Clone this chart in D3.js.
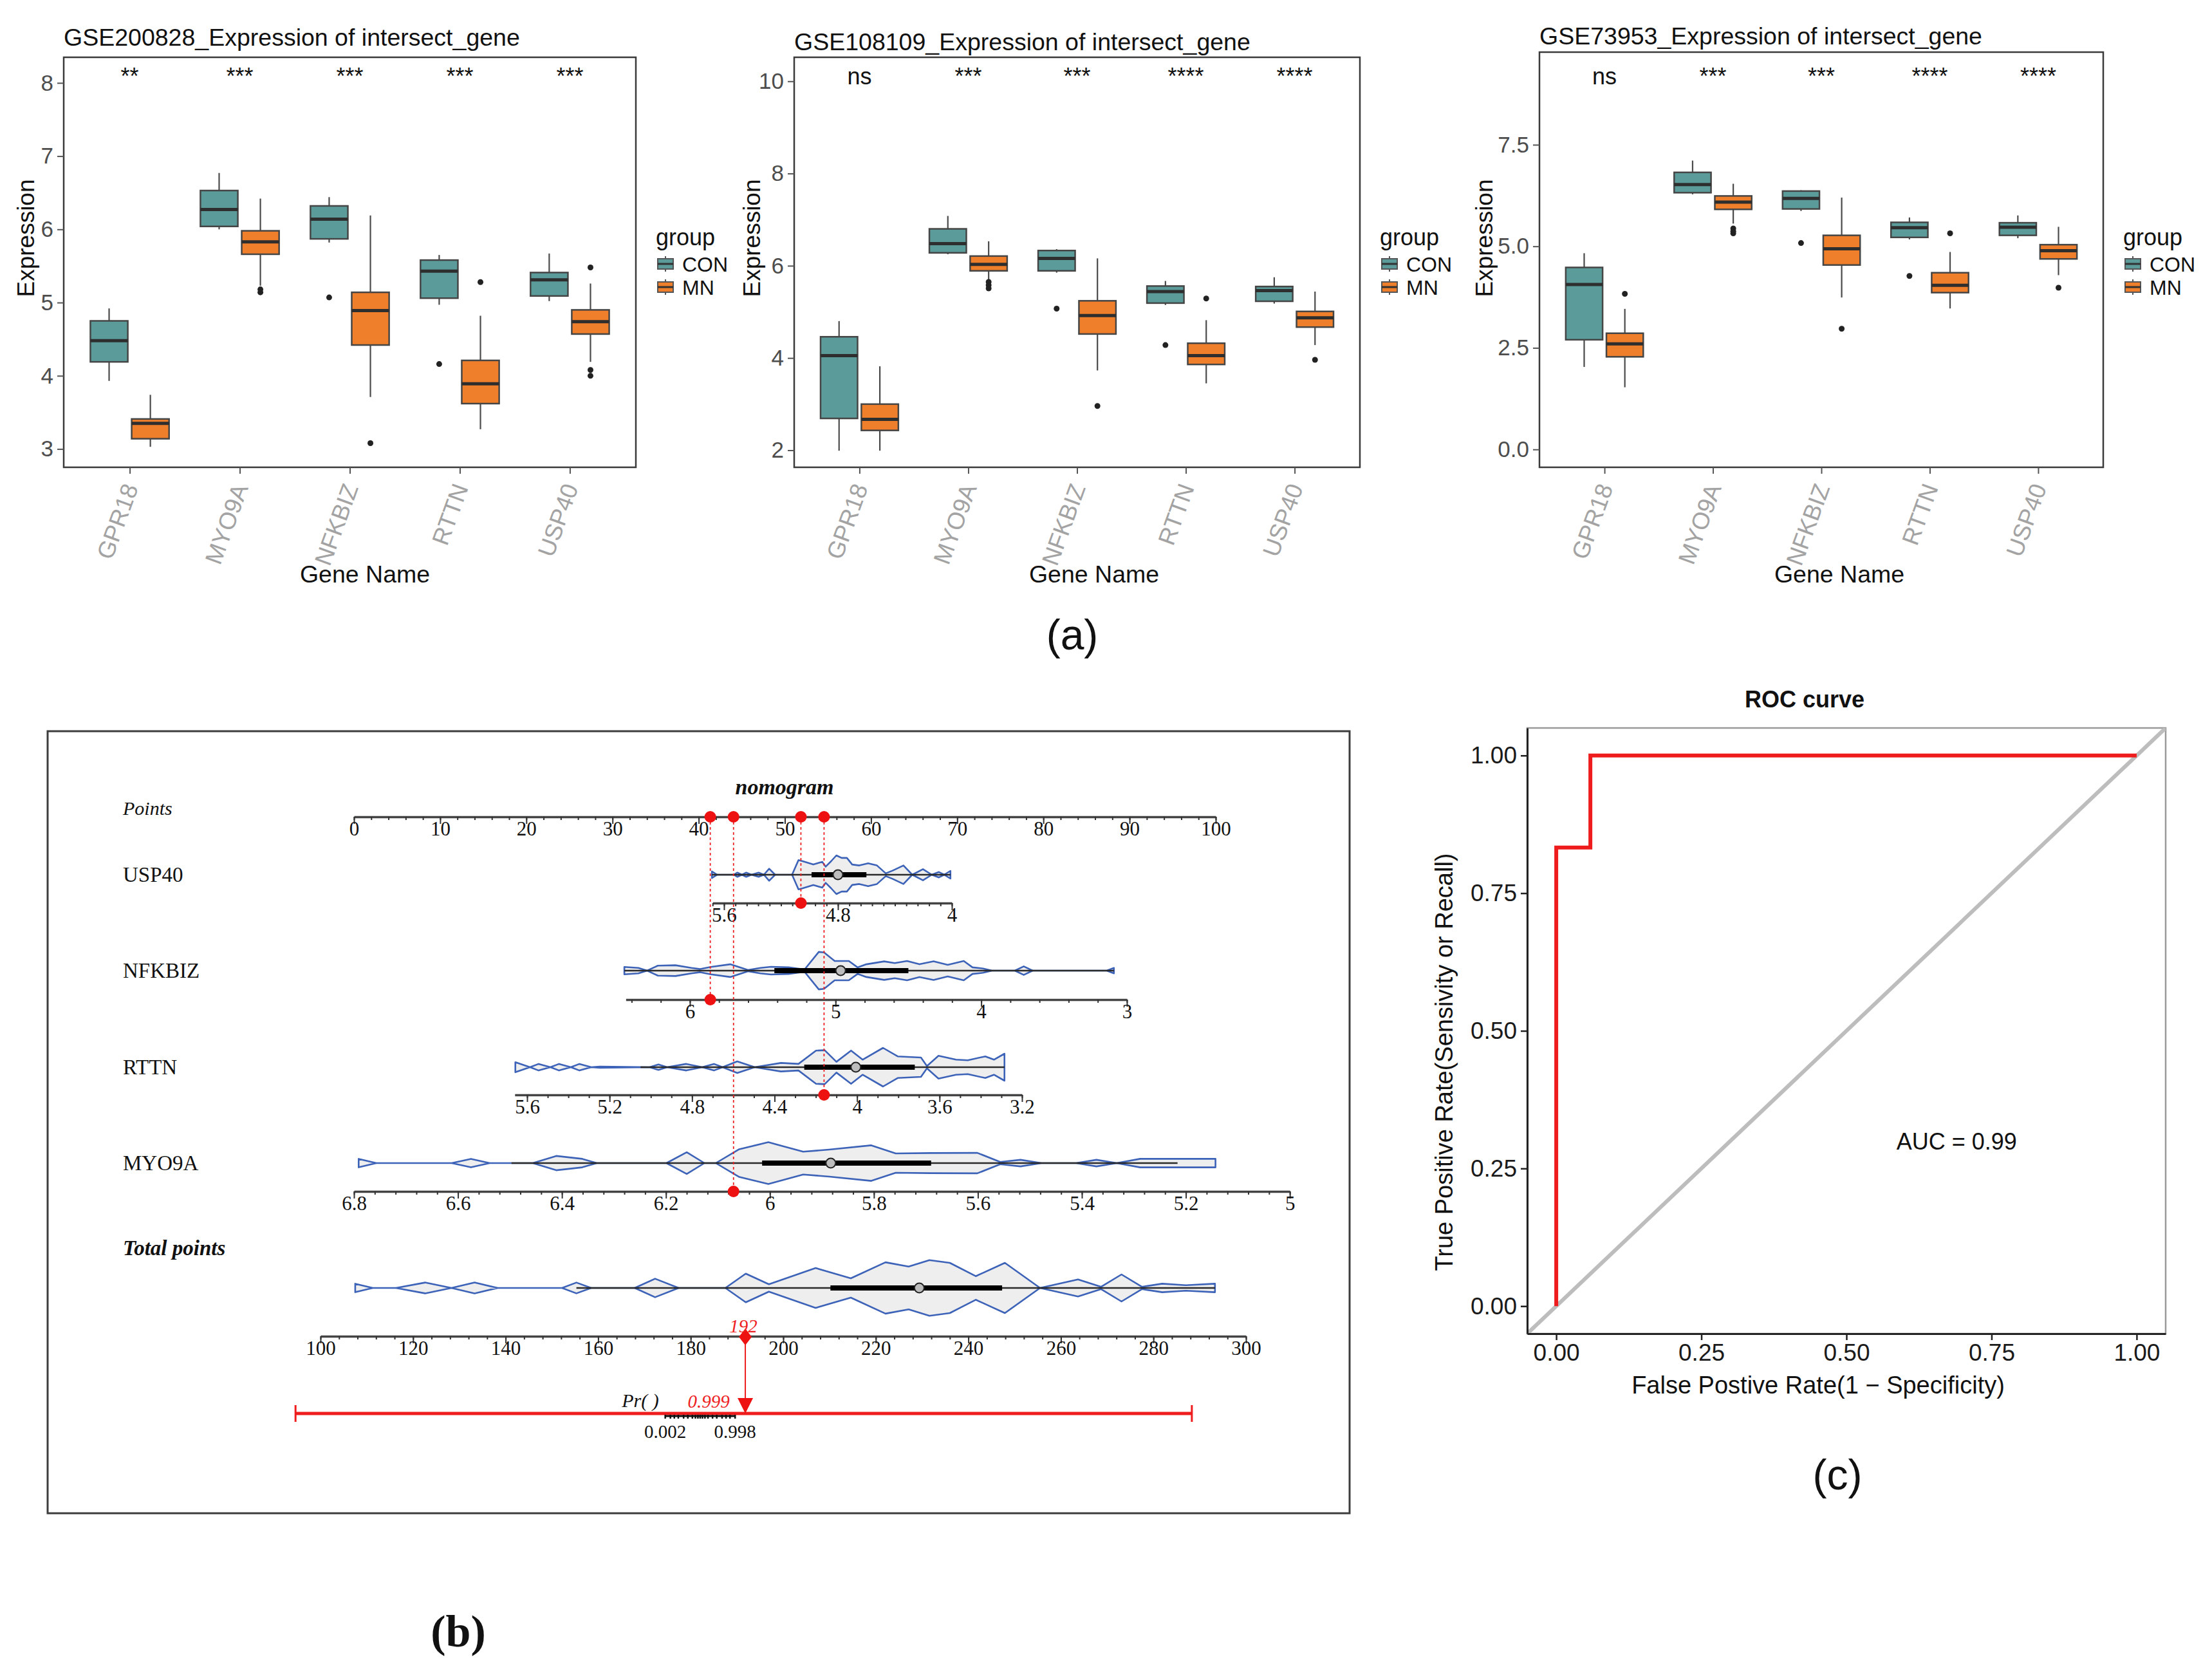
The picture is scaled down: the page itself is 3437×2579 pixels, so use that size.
<!DOCTYPE html>
<html><head><meta charset="utf-8">
<script src="https://cdn.jsdelivr.net/npm/d3@7/dist/d3.min.js"></script>
<style>html,body{margin:0;padding:0;background:#fff;}svg{display:block;}</style>
</head><body>
<svg id="fig" width="3437" height="2579" xmlns="http://www.w3.org/2000/svg"></svg>
<script>
// ================= DATA =================
const genes = ["GPR18","MYO9A","NFKBIZ","RTTN","USP40"];
const groups = ["CON","MN"];
// box stats per gene: [lower whisker, Q1, median, Q3, upper whisker]
const gse200828_CON = [[3.93,4.19,4.48,4.75,4.92],[6.00,6.04,6.27,6.53,6.77],[5.82,5.87,6.14,6.32,6.44],[4.97,5.06,5.43,5.58,5.65],[5.02,5.09,5.31,5.41,5.67]];
const gse200828_MN  = [[3.03,3.14,3.35,3.41,3.74],[5.23,5.66,5.83,5.98,6.42],[3.71,4.42,4.89,5.14,6.19],[3.27,3.62,3.89,4.21,4.82],[4.19,4.57,4.74,4.90,5.26]];
const gse200828_CON_out = [[],[],[5.07],[4.16],[]];
const gse200828_MN_out  = [[],[5.18,5.14],[3.08],[5.28],[5.48,4.08,4.00]];
const gse200828_sig = ["**","***","***","***","***"];
const gse200828_ticks = [3,4,5,6,7,8];

const gse108109_CON = [[1.99,2.69,4.05,4.46,4.80],[6.25,6.28,6.48,6.80,7.08],[5.85,5.89,6.16,6.33,6.36],[5.15,5.19,5.44,5.56,5.67],[5.18,5.23,5.46,5.55,5.75]];
const gse108109_MN  = [[1.99,2.43,2.67,3.00,3.82],[5.70,5.89,6.03,6.21,6.53],[3.73,4.52,4.92,5.24,6.16],[3.45,3.86,4.05,4.32,4.82],[4.28,4.67,4.87,5.01,5.44]];
const gse108109_CON_out = [[],[],[5.07],[4.28],[]];
const gse108109_MN_out  = [[],[5.65,5.58,5.51],[2.96],[5.29],[3.96]];
const gse108109_sig = ["ns","***","***","****","****"];
const gse108109_ticks = [2,4,6,8,10];

const gse73953_CON = [[2.03,2.70,4.06,4.48,4.83],[6.28,6.32,6.52,6.82,7.11],[5.87,5.92,6.18,6.36,6.38],[5.17,5.22,5.46,5.59,5.71],[5.20,5.27,5.47,5.58,5.76]];
const gse73953_MN  = [[1.53,2.28,2.60,2.86,3.46],[5.56,5.91,6.09,6.24,6.54],[3.74,4.54,4.94,5.27,6.20],[3.47,3.86,4.04,4.35,4.86],[4.29,4.69,4.89,5.04,5.48]];
const gse73953_CON_out = [[],[],[5.08],[4.27],[]];
const gse73953_MN_out  = [[3.83],[5.44,5.37,5.32],[2.97],[5.32],[3.98]];
const gse73953_sig = ["ns","***","***","****","****"];
const gse73953_ticks = [0,2.5,5,7.5];

// ---- nomogram ----
const pointsTicks = [0,10,20,30,40,50,60,70,80,90,100];
const totalTicks = [100,120,140,160,180,200,220,240,260,280,300];
// value -> points anchors
const usp40Anchor  = {values:[5.6,4.0], points:[42.94,69.38]};
const nfkbizAnchor = {values:[6.0,3.0], points:[38.98,89.69]};
const rttnAnchor   = {values:[5.6,3.2], points:[20.09,77.52]};
const myo9aAnchor  = {values:[6.8,5.0], points:[0.0,108.6]};
const usp40AxisRange=[5.68,4.0],  usp40Labels=[5.6,4.8,4.0],  usp40Minor=0.08;
const nfkbizAxisRange=[6.44,3.0], nfkbizLabels=[6,5,4,3],     nfkbizMinor=0.2;
const rttnAxisRange=[5.66,3.2],   rttnLabels=[5.6,5.2,4.8,4.4,4.0,3.6,3.2], rttnMinor=0.1;
const myo9aAxisRange=[6.8,5.0],   myo9aLabels=[6.8,6.6,6.4,6.2,6.0,5.8,5.6,5.4,5.2,5.0], myo9aMinor=0.04;
// violin profiles: [value, relative density]
const usp40Violin=[[5.685,0.17],[5.648,0],[5.531,0],[5.506,0.11],[5.474,0],[5.444,0.11],[5.407,0],[5.357,0.11],[5.320,0],[5.283,0.31],[5.241,0],[5.122,0],[5.077,0.76],[5.047,0.70],[4.973,0.53],[4.910,0.67],[4.886,0.42],[4.848,0.70],[4.811,1.00],[4.774,0.87],[4.737,0.87],[4.700,0.53],[4.650,0.48],[4.588,0.59],[4.526,0.48],[4.464,0.07],[4.414,0.22],[4.340,0.48],[4.278,0],[4.203,0.29],[4.141,0],[4.091,0.14],[4.054,0],[4.010,0.20]];
const nfkbizViolin=[[6.45,0.19],[6.354,0.14],[6.293,0],[6.22,0.26],[6.099,0.28],[5.989,0.14],[5.929,0.08],[5.856,0.19],[5.723,0.33],[5.601,0.03],[5.516,0.14],[5.443,0.2],[5.322,0.17],[5.213,0.06],[5.115,0.97],[5.079,0.94],[5.006,0.5],[4.909,0.5],[4.849,0.17],[4.788,0.33],[4.666,0.48],[4.594,0.39],[4.509,0.5],[4.424,0.33],[4.327,0.48],[4.230,0.3],[4.120,0.5],[4.060,0.17],[3.987,0.11],[3.926,0],[3.769,0],[3.708,0.22],[3.647,0],[3.138,0],[3.089,0.14]];
const rttnViolin=[[5.657,0.26],[5.586,0],[5.544,0.17],[5.487,0],[5.445,0.17],[5.388,0],[5.346,0.17],[5.289,0],[5.247,0.03],[5.006,0],[4.963,0.14],[4.921,0],[4.828,0.17],[4.751,0],[4.694,0.17],[4.652,0],[4.581,0.3],[4.496,0],[4.369,0.22],[4.284,0.17],[4.199,0.86],[4.157,0.88],[4.10,0.28],[4.029,0.86],[3.973,0.39],[3.874,1.0],[3.803,0.56],[3.69,0.5],[3.661,0.06],[3.605,0.59],[3.520,0.39],[3.463,0.36],[3.378,0.56],[3.336,0.39],[3.285,0.7]];
const myo9aViolin=[[6.791,0.22],[6.757,0],[6.612,0],[6.575,0.22],[6.539,0],[6.456,0],[6.411,0.37],[6.361,0.22],[6.333,0],[6.199,0],[6.160,0.56],[6.126,0],[6.104,0],[6.059,0.72],[6.003,1.08],[5.936,0.59],[5.886,0.7],[5.805,0.92],[5.758,0.5],[5.691,0.52],[5.601,0.53],[5.557,0.06],[5.518,0.17],[5.478,0],[5.411,0],[5.372,0.17],[5.333,0],[5.288,0.22],[5.233,0.22],[5.143,0.22]];
const totalViolin=[[107.5,0.22],[111.3,0],[116.3,0],[122.6,0.28],[128.3,0],[133.3,0.28],[138.3,0],[152.2,0],[155.3,0.28],[158.5,0],[167.9,0],[172.3,0.48],[177.4,0],[187.5,0],[191.9,0.74],[196.9,0.19],[207.0,1.03],[214.6,0.5],[222.1,1.33],[227.1,1.11],[231.6,1.44],[236.0,1.3],[241.6,0.61],[247.9,1.3],[255.5,0],[263.7,0.44],[268.7,0.06],[273.1,0.7],[277.5,0.06],[281.9,0.22],[287.0,0.14],[293.3,0.22]];
// inner box: [whisker start, Q1, median, Q3, whisker end]
const usp40Box=[5.685,4.985,4.80,4.60,4.01];
const nfkbizBox=[6.45,5.42,4.965,4.50,3.089];
const rttnBox=[5.05,4.256,4.006,3.72,3.285];
const myo9aBox=[6.497,6.015,5.883,5.69,5.216];
const totalBox=[155.3,210.2,229.4,247.3,293.3];
// observation (red)
const usp40Obs=5.06, nfkbizObs=5.86, rttnObs=4.16, myo9aObs=6.07;
// probability axis
const prModel={center:182.05, slope:0.8225};
const prLineRange=[94.6,288.3];
const prMinorTicks=[0.002,0.005,0.01,0.02,0.05,0.1,0.2,0.3,0.4,0.5,0.6,0.7,0.8,0.9,0.95,0.98,0.99,0.995,0.998];
const prLabels=[0.002,0.998];
const prObsLabel="0.999";

// ---- ROC ----
const rocFPR=[0,0,0.0588,0.0588,1];
const rocTPR=[0,0.833,0.833,1,1];
const rocTicks=[0,0.25,0.5,0.75,1];
const rocAUC=0.99;

// ================= DRAW =================
const svg=d3.select("#fig");
const SANS="'Liberation Sans', Arial, Helvetica, sans-serif";
const SERIF="'Liberation Serif', 'Times New Roman', Times, serif";
const groupColors=["#5b9b9a","#f07f2b"];
svg.append("rect").attr("width",3437).attr("height",2579).attr("fill","#fff");

function boxPanel(p){
  const g=svg.append("g").attr("font-family",SANS);
  const x=d3.scalePoint().domain(genes).range([p.x0,p.x1]).padding(0.6);
  const y=d3.scaleLinear().domain(p.domain).range([p.y1,p.y0]);
  const step=x.step();
  g.append("rect").attr("x",p.x0).attr("y",p.y0).attr("width",p.x1-p.x0).attr("height",p.y1-p.y0)
    .attr("fill","#fff").attr("stroke","#3a3a3a").attr("stroke-width",2.5);
  const ya=g.append("g").attr("transform",`translate(${p.x0},0)`)
    .call(d3.axisLeft(y).tickValues(p.ticks).tickFormat(p.fmt).tickSize(10).tickPadding(6));
  ya.select(".domain").remove();
  ya.selectAll(".tick line").attr("stroke","#555").attr("stroke-width",2);
  ya.selectAll(".tick text").attr("font-size",35).attr("fill","#4d4d4d").attr("font-family",SANS);
  const xa=g.append("g").attr("transform",`translate(0,${p.y1})`).call(d3.axisBottom(x).tickSize(10));
  xa.select(".domain").remove();
  xa.selectAll(".tick line").attr("stroke","#555").attr("stroke-width",2);
  xa.selectAll(".tick text").attr("y",null).attr("dy","0.35em").attr("text-anchor","end")
    .attr("transform","translate(1,27) rotate(-70)").attr("font-size",37).attr("fill","#a3a3a3").attr("font-family",SANS);
  const sets=[p.con,p.mn], outs=[p.conOut,p.mnOut];
  sets.forEach((data,j)=>{
    const off=(j===0?-1:1)*0.1875*step, bw=0.34*step;
    data.forEach((s,i)=>{
      const cx=x(genes[i])+off;
      g.append("line").attr("x1",cx).attr("x2",cx).attr("y1",y(s[0])).attr("y2",y(s[4])).attr("stroke","#4a4a4a").attr("stroke-width",2.2);
      g.append("rect").attr("x",cx-bw/2).attr("y",y(s[3])).attr("width",bw).attr("height",y(s[1])-y(s[3]))
        .attr("fill",groupColors[j]).attr("stroke","#454545").attr("stroke-width",2.5);
      g.append("line").attr("x1",cx-bw/2).attr("x2",cx+bw/2).attr("y1",y(s[2])).attr("y2",y(s[2])).attr("stroke","#2e2e2e").attr("stroke-width",5);
      outs[j][i].forEach(v=>g.append("circle").attr("cx",cx).attr("cy",y(v)).attr("r",4.5).attr("fill","#222"));
    });
  });
  p.sig.forEach((s,i)=>g.append("text").attr("x",x(genes[i])).attr("y",y(p.sigY)).attr("text-anchor","middle")
    .attr("font-size",36).attr("fill","#111").text(s));
  g.append("text").attr("x",p.x0).attr("y",p.titleY).attr("font-size",37.5).attr("fill","#111").text(p.title);
  g.append("text").attr("transform",`translate(${p.ylabX},370) rotate(-90)`).attr("dy","0.35em").attr("text-anchor","middle")
    .attr("font-size",37).attr("fill","#111").text("Expression");
  g.append("text").attr("x",p.xlabX).attr("y",905).attr("text-anchor","middle").attr("font-size",37.5).attr("fill","#111").text("Gene Name");
  // legend
  g.append("text").attr("x",p.legX).attr("y",381).attr("font-size",36).attr("fill","#111").text("group");
  groups.forEach((gr,j)=>{
    const cy=410+36*j, kx=p.legX+3;
    g.append("line").attr("x1",kx+12).attr("x2",kx+12).attr("y1",cy-12).attr("y2",cy+12).attr("stroke","#555").attr("stroke-width",2);
    g.append("rect").attr("x",kx).attr("y",cy-8).attr("width",24).attr("height",16).attr("fill",groupColors[j]).attr("stroke","#555").attr("stroke-width",2);
    g.append("line").attr("x1",kx).attr("x2",kx+24).attr("y1",cy).attr("y2",cy).attr("stroke","#333").attr("stroke-width",3);
    g.append("text").attr("x",p.legX+41).attr("y",cy+11.5).attr("font-size",32).attr("fill","#111").text(gr);
  });
}

boxPanel({x0:99,x1:988,y0:89,y1:726,domain:[2.75,8.35],ticks:gse200828_ticks,fmt:d3.format("d"),
  con:gse200828_CON,mn:gse200828_MN,conOut:gse200828_CON_out,mnOut:gse200828_MN_out,sig:gse200828_sig,sigY:7.98,
  title:"GSE200828_Expression of intersect_gene",titleY:71,ylabX:40,xlabX:567,legX:1019});
boxPanel({x0:1234,x1:2113,y0:89,y1:726,domain:[1.63,10.52],ticks:gse108109_ticks,fmt:d3.format("d"),
  con:gse108109_CON,mn:gse108109_MN,conOut:gse108109_CON_out,mnOut:gse108109_MN_out,sig:gse108109_sig,sigY:9.93,
  title:"GSE108109_Expression of intersect_gene",titleY:78,ylabX:1168,xlabX:1700,legX:2144});
boxPanel({x0:2392,x1:3268,y0:81,y1:726,domain:[-0.44,9.78],ticks:gse73953_ticks,fmt:d3.format(".1f"),
  con:gse73953_CON,mn:gse73953_MN,conOut:gse73953_CON_out,mnOut:gse73953_MN_out,sig:gse73953_sig,sigY:8.99,
  title:"GSE73953_Expression of intersect_gene",titleY:69,ylabX:2306,xlabX:2858,legX:3299});

svg.append("text").attr("x",1666).attr("y",1009).attr("text-anchor","middle").attr("font-family",SANS).attr("font-size",66).attr("fill","#111").text("(a)");

// ---------- Nomogram ----------
const nb=svg.append("g").attr("font-family",SERIF);
nb.append("rect").attr("x",74).attr("y",1136).attr("width",2023).attr("height",1215).attr("fill","#fff").attr("stroke","#3c3c3c").attr("stroke-width",3);
const ptsX=d3.scaleLinear().domain([0,100]).range([550,1889]);
const totX=d3.scaleLinear().domain([100,300]).range([498,1936]);
const fmtNum=v=>String(+(+v).toFixed(3));
const minorVals=(range,step)=>{const lo=Math.min(...range),hi=Math.max(...range);const a=Math.ceil(lo/step-1e-6),b=Math.floor(hi/step+1e-6);return d3.range(a,b+1).map(k=>+(k*step).toFixed(4));};
function nomoAxis(scale,y,labels,minor){
  const ga=nb.append("g").attr("transform",`translate(0,${y})`);
  ga.call(d3.axisBottom(scale).tickValues(minor).tickSize(5).tickSizeOuter(0).tickFormat(""));
  ga.selectAll(".tick line").attr("stroke","#333").attr("stroke-width",2);
  ga.select(".domain").attr("stroke","#444").attr("stroke-width",3.5);
  const gl=nb.append("g").attr("transform",`translate(0,${y})`);
  gl.call(d3.axisBottom(scale).tickValues(labels).tickSize(11).tickPadding(-4).tickFormat(fmtNum));
  gl.select(".domain").remove();
  gl.selectAll(".tick line").attr("stroke","#333").attr("stroke-width",2);
  gl.selectAll(".tick text").attr("font-family",SERIF).attr("font-size",31).attr("fill","#111");
}
const violinW=d3.scaleLinear().domain([0,1]).range([0,30]);
function drawViolin(scale,yc,prof,box){
  const area=d3.area().x(d=>scale(d[0])).y0(d=>yc+violinW(d[1])).y1(d=>yc-violinW(d[1]));
  nb.append("path").attr("d",area(prof)+"Z").attr("fill","#eeeeee").attr("stroke","#3d63b8").attr("stroke-width",2.6).attr("stroke-linejoin","round");
  nb.append("line").attr("x1",scale(box[0])).attr("x2",scale(box[4])).attr("y1",yc).attr("y2",yc).attr("stroke","#2a2a2a").attr("stroke-width",2.5);
  nb.append("line").attr("x1",scale(box[1])).attr("x2",scale(box[3])).attr("y1",yc).attr("y2",yc).attr("stroke","#000").attr("stroke-width",8);
  nb.append("circle").attr("cx",scale(box[2])).attr("cy",yc).attr("r",7.5).attr("fill","#bdbdbd").attr("stroke","#222").attr("stroke-width",2);
}
// title and points axis
nb.append("text").attr("x",1219).attr("y",1234).attr("text-anchor","middle").attr("font-size",34).attr("font-weight","bold").attr("font-style","italic").attr("fill","#111").text("nomogram");
nb.append("text").attr("x",191).attr("y",1266).attr("font-size",30).attr("font-style","italic").attr("fill","#111").text("Points");
nomoAxis(ptsX,1269,pointsTicks,minorVals([0,100],2));

const nomoVars=[
  {name:"USP40", anchor:usp40Anchor, range:usp40AxisRange, labels:usp40Labels, minor:usp40Minor, violin:usp40Violin, box:usp40Box, obs:usp40Obs, vy:1359, ay:1403},
  {name:"NFKBIZ",anchor:nfkbizAnchor,range:nfkbizAxisRange,labels:nfkbizLabels,minor:nfkbizMinor,violin:nfkbizViolin,box:nfkbizBox,obs:nfkbizObs,vy:1508, ay:1553},
  {name:"RTTN",  anchor:rttnAnchor,  range:rttnAxisRange,  labels:rttnLabels,  minor:rttnMinor,  violin:rttnViolin,  box:rttnBox,  obs:rttnObs,  vy:1658, ay:1701},
  {name:"MYO9A", anchor:myo9aAnchor, range:myo9aAxisRange, labels:myo9aLabels, minor:myo9aMinor, violin:myo9aViolin, box:myo9aBox, obs:myo9aObs, vy:1807, ay:1851}
];
let totalPts=0;
const redDots=[];
nomoVars.forEach(v=>{
  const pts=d3.scaleLinear().domain(v.anchor.values).range(v.anchor.points);
  const sc=d3.scaleLinear().domain(v.range).range(v.range.map(d=>ptsX(pts(d))));
  const vs=d3.scaleLinear().domain(v.anchor.values).range(v.anchor.points.map(ptsX));
  nb.append("text").attr("x",191).attr("y",v.vy+11).attr("font-size",33).attr("fill","#111").text(v.name);
  drawViolin(vs,v.vy,v.violin,v.box);
  nomoAxis(sc,v.ay,v.labels,minorVals(v.range,v.minor));
  const p=pts(v.obs); totalPts+=p;
  redDots.push({x:ptsX(p),y:v.ay});
});
redDots.forEach(d=>{
  nb.append("line").attr("x1",d.x).attr("x2",d.x).attr("y1",1269).attr("y2",d.y).attr("stroke","#ee2222").attr("stroke-width",1.8).attr("stroke-dasharray","4,4");
});
redDots.forEach(d=>{
  nb.append("circle").attr("cx",d.x).attr("cy",1269).attr("r",9).attr("fill","#ee1111");
  nb.append("circle").attr("cx",d.x).attr("cy",d.y).attr("r",9).attr("fill","#ee1111");
});
// total points
nb.append("text").attr("x",191).attr("y",1950).attr("font-size",33).attr("font-weight","bold").attr("font-style","italic").attr("fill","#111").text("Total points");
drawViolin(totX,2001,totalViolin,totalBox);
nomoAxis(totX,2076,totalTicks,minorVals([100,300],4));
const tx=totX(totalPts);
const prY=2196;
const prX=p=>totX(prModel.center+Math.log(p/(1-p))/prModel.slope);
nb.append("line").attr("x1",totX(prLineRange[0])).attr("x2",totX(prLineRange[1])).attr("y1",prY).attr("y2",prY).attr("stroke","#ee1c1c").attr("stroke-width",5);
[prLineRange[0],prLineRange[1]].forEach(t=>nb.append("line").attr("x1",totX(t)).attr("x2",totX(t)).attr("y1",prY-13).attr("y2",prY+13).attr("stroke","#ee1c1c").attr("stroke-width",3));
prMinorTicks.forEach(p=>nb.append("line").attr("x1",prX(p)).attr("x2",prX(p)).attr("y1",prY+2).attr("y2",prY+8).attr("stroke","#111").attr("stroke-width",2.5));
nb.append("line").attr("x1",prX(prLabels[0])).attr("x2",prX(prLabels[1])).attr("y1",prY+4).attr("y2",prY+4).attr("stroke","#111").attr("stroke-width",3);
prLabels.forEach(p=>nb.append("text").attr("x",prX(p)).attr("y",2234).attr("text-anchor","middle").attr("font-size",29).attr("fill","#111").text(String(p)));
nb.append("text").attr("x",995).attr("y",2186).attr("text-anchor","middle").attr("font-size",30).attr("font-style","italic").attr("fill","#111").text("Pr( )");
nb.append("text").attr("x",1101).attr("y",2187).attr("text-anchor","middle").attr("font-size",29).attr("font-style","italic").attr("fill","#ee2222").text(prObsLabel);
nb.append("line").attr("x1",tx).attr("x2",tx).attr("y1",2076).attr("y2",2174).attr("stroke","#ee1c1c").attr("stroke-width",2);
nb.append("path").attr("d",`M${tx-12},2172L${tx+12},2172L${tx},2196Z`).attr("fill","#ee1111");
nb.append("path").attr("d",`M${tx},2064L${tx+10},2077L${tx},2090L${tx-10},2077Z`).attr("fill","#ee1111");
nb.append("text").attr("x",tx-3).attr("y",2070).attr("text-anchor","middle").attr("font-size",29).attr("font-style","italic").attr("fill","#ee2222").text(Math.round(totalPts));
svg.append("text").attr("x",712).attr("y",2558).attr("text-anchor","middle").attr("font-family",SERIF).attr("font-weight","bold").attr("font-size",70).attr("fill","#111").text("(b)");

// ---------- ROC ----------
const rc=svg.append("g").attr("font-family",SANS);
const rx=d3.scaleLinear().domain([-0.05,1.05]).range([2373,3365]);
const ry=d3.scaleLinear().domain([-0.05,1.05]).range([2072,1131]);
rc.append("rect").attr("x",2373).attr("y",1131).attr("width",3365-2373).attr("height",2072-1131).attr("fill","#fff").attr("stroke","#9a9a9a").attr("stroke-width",2.5);
rc.append("clipPath").attr("id","rocclip").append("rect").attr("x",2373).attr("y",1131).attr("width",3365-2373).attr("height",2072-1131);
rc.append("line").attr("clip-path","url(#rocclip)").attr("x1",rx(-0.05)).attr("y1",ry(-0.05)).attr("x2",rx(1.05)).attr("y2",ry(1.05)).attr("stroke","#bdbdbd").attr("stroke-width",6);
const rocLine=d3.line().x((d,i)=>rx(rocFPR[i])).y((d,i)=>ry(rocTPR[i]));
rc.append("path").attr("d",rocLine(rocFPR)).attr("fill","none").attr("stroke","#ee1c1c").attr("stroke-width",6);
const rxa=rc.append("g").attr("transform","translate(0,2072)").call(d3.axisBottom(rx).tickValues(rocTicks).tickFormat(d3.format(".2f")).tickSize(10).tickPadding(6).tickSizeOuter(0));
const rya=rc.append("g").attr("transform","translate(2373,0)").call(d3.axisLeft(ry).tickValues(rocTicks).tickFormat(d3.format(".2f")).tickSize(10).tickPadding(6).tickSizeOuter(0));
[rxa,rya].forEach(a=>{
  a.select(".domain").attr("stroke","#222").attr("stroke-width",3);
  a.selectAll(".tick line").attr("stroke","#222").attr("stroke-width",2.5);
  a.selectAll(".tick text").attr("font-family",SANS).attr("font-size",37).attr("fill","#1a1a1a");
});
rc.append("text").attr("x",rx(0.69)).attr("y",ry(0.30)).attr("dy","0.36em").attr("text-anchor","middle").attr("font-size",36).attr("fill","#111").text("AUC = "+rocAUC.toFixed(2));
rc.append("text").attr("x",2804).attr("y",1099).attr("text-anchor","middle").attr("font-size",36).attr("font-weight","bold").attr("fill","#111").text("ROC curve");
rc.append("text").attr("x",2825).attr("y",2165).attr("text-anchor","middle").attr("font-size",38).attr("fill","#111").text("False Postive Rate(1 \u2212 Specificity)");
rc.append("text").attr("transform","translate(2244,1650) rotate(-90)").attr("dy","0.35em").attr("text-anchor","middle").attr("font-size",38).attr("fill","#111").text("True Positive Rate(Sensivity or Recall)");
svg.append("text").attr("x",2855).attr("y",2314).attr("text-anchor","middle").attr("font-family",SANS).attr("font-size",66).attr("fill","#111").text("(c)");
</script>
</body></html>
